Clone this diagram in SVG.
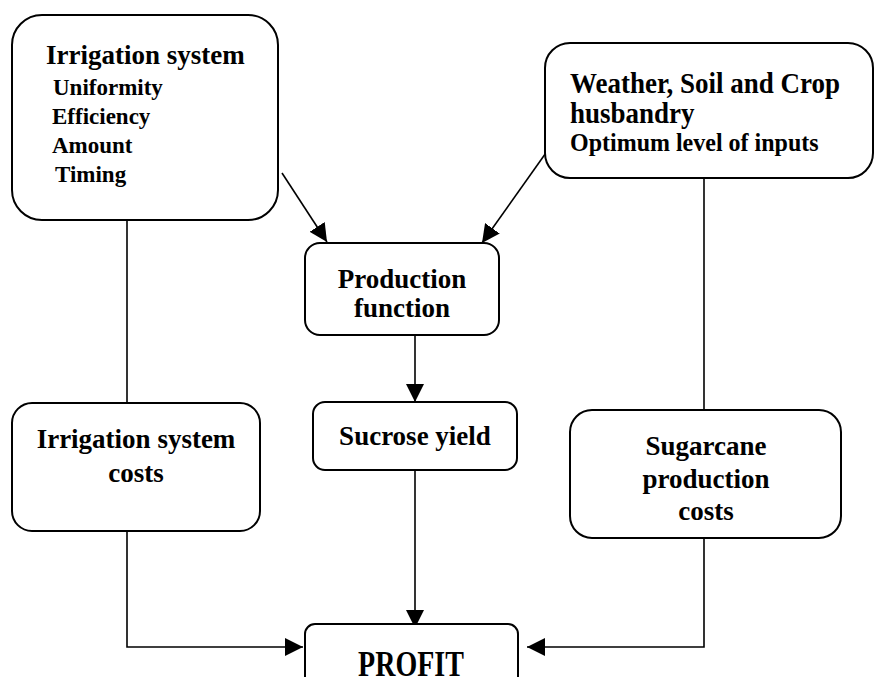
<svg xmlns="http://www.w3.org/2000/svg" width="874" height="677" viewBox="0 0 874 677">
<defs>
<style>
.box{fill:#fff;stroke:#000;stroke-width:2}
.ln{fill:none;stroke:#000;stroke-width:1.6}
.t{font-family:"Liberation Serif","Times New Roman",serif;font-weight:bold;fill:#000}
.big{font-size:27px}
.sm{font-size:23px}
.mid{text-anchor:middle}
</style>
<marker id="ah" markerUnits="userSpaceOnUse" viewBox="0 0 18 18" refX="18" refY="9" markerWidth="18" markerHeight="18" orient="auto">
<path d="M0,0 L18,9 L0,18 z" fill="#000"/>
</marker>
</defs>
<rect width="874" height="677" fill="#fff"/>

<g id="connectors">
<line class="ln" x1="127" y1="220" x2="127" y2="403"/>
<polyline class="ln" points="127,531 127,647 303,647" marker-end="url(#ah)"/>
<line class="ln" x1="415" y1="335" x2="415" y2="402" marker-end="url(#ah)"/>
<line class="ln" x1="415" y1="470" x2="415" y2="628" marker-end="url(#ah)"/>
<line class="ln" x1="704" y1="178" x2="704" y2="410"/>
<polyline class="ln" points="704,531 704,647 527,647" marker-end="url(#ah)"/>
<line class="ln" x1="282" y1="173" x2="327" y2="242" marker-end="url(#ah)"/>
<line class="ln" x1="548" y1="150" x2="482" y2="243" marker-end="url(#ah)"/>
</g>

<g id="irrigation-system">
<rect class="box" x="12" y="15" width="266" height="205" rx="30"/>
<text class="t big" x="46" y="64">Irrigation system</text>
<text class="t sm" x="53" y="95">Uniformity</text>
<text class="t sm" x="52" y="124">Efficiency</text>
<text class="t sm" x="52" y="153">Amount</text>
<text class="t sm" x="55" y="182">Timing</text>
</g>

<g id="weather-soil-crop">
<rect class="box" x="545" y="43" width="328" height="135" rx="25"/>
<text class="t big" transform="translate(570,93) scale(1,1.08)">Weather, Soil and Crop</text>
<text class="t big" transform="translate(570,123) scale(1,1.08)">husbandry</text>
<text class="t" style="font-size:24px" transform="translate(570,151) scale(1,1.05)">Optimum level of inputs</text>
</g>

<g id="production-function">
<rect class="box" x="305" y="243" width="194" height="92" rx="15"/>
<text class="t big mid" x="402" y="288">Production</text>
<text class="t big mid" x="402" y="317">function</text>
</g>

<g id="sucrose-yield">
<rect class="box" x="313" y="402" width="204" height="68" rx="12"/>
<text class="t big mid" x="415" y="445">Sucrose yield</text>
</g>

<g id="irrigation-costs">
<rect class="box" x="12" y="403" width="248" height="128" rx="20"/>
<text class="t big mid" x="136" y="448">Irrigation system</text>
<text class="t big mid" x="136" y="482">costs</text>
</g>

<g id="sugarcane-costs">
<rect class="box" x="570" y="410" width="271" height="128" rx="22"/>
<text class="t big mid" x="706" y="455">Sugarcane</text>
<text class="t big mid" x="706" y="488">production</text>
<text class="t big mid" x="706" y="520">costs</text>
</g>

<g id="profit">
<rect class="box" x="305" y="624" width="213" height="80" rx="10"/>
<text class="t mid" style="font-size:28px" transform="translate(411,676) scale(1,1.3)">PROFIT</text>
</g>
</svg>
